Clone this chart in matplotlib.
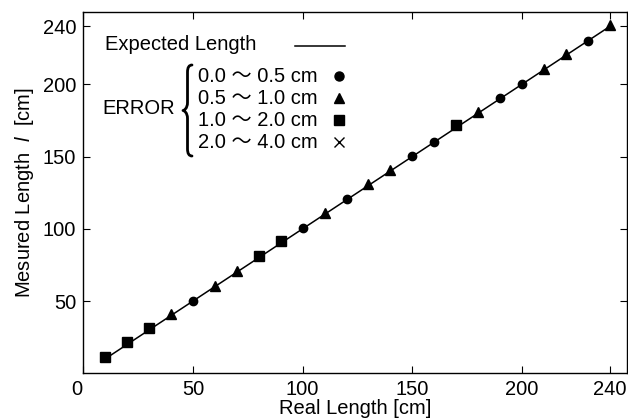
import numpy as np
import matplotlib
matplotlib.use("Agg")
import matplotlib.pyplot as plt
from matplotlib.path import Path
from matplotlib.patches import PathPatch
import matplotlib.transforms as mtransforms

plt.rcParams['font.family'] = ['Liberation Sans', 'Noto Sans CJK JP', 'DejaVu Sans']
plt.rcParams['mathtext.fontset'] = 'custom'
plt.rcParams['mathtext.rm'] = 'Liberation Sans'
plt.rcParams['mathtext.it'] = 'Liberation Sans:italic'

# real length [cm] and measured length [cm], grouped by error class
real_sq = [10, 20, 30, 80, 90, 170]
meas_sq = [11.5, 21.5, 31.5, 81.3, 91.5, 171.5]
real_tri = [40, 60, 70, 110, 130, 140, 180, 210, 220, 240]
meas_tri = [40.8, 60.7, 70.8, 110.7, 130.8, 140.7, 180.8, 210.7, 220.6, 240.8]
real_circ = [50, 100, 120, 150, 160, 190, 200, 230]
meas_circ = [50.3, 100.2, 120.3, 150.2, 160.3, 190.2, 200.3, 230.2]
expected_x = [10, 240]

x_ticks = [0, 50, 100, 150, 200, 240]
y_ticks = [50, 100, 150, 200, 240]
error_labels = ["0.0 ～ 0.5 cm", "0.5 ～ 1.0 cm", "1.0 ～ 2.0 cm", "2.0 ～ 4.0 cm"]
error_markers = ["o", "^", "s", "x"]

W, H = 628, 418
fig = plt.figure(figsize=(W / 100, H / 100), dpi=100)
ax = fig.add_axes([83.3 / W, 1 - 373.3 / H, (627.3 - 83.3) / W, (373.3 - 12) / H])

ax.plot(expected_x, expected_x, color="black", lw=1.1, zorder=2)
ax.plot(real_sq, meas_sq, "s", color="black", ms=6.5, zorder=3)
ax.plot(real_tri, meas_tri, "^", color="black", ms=6.5, zorder=3)
ax.plot(real_circ, meas_circ, "o", color="black", ms=6, zorder=3)

ax.set_xlim(0, 248)
ax.set_ylim(0, 250)
ax.set_xticks(x_ticks)
ax.set_yticks(y_ticks)
ax.tick_params(direction="in", length=5, width=0.8, top=True, right=True,
               labelsize=14.5, pad=5)
for s in ax.spines.values():
    s.set_linewidth(1.0)

# shift the corner "0" a little to the left
lbl0 = ax.get_xticklabels()[0]
lbl0.set_transform(lbl0.get_transform() +
                   mtransforms.ScaledTranslation(-6.5 / 100, 0, fig.dpi_scale_trans))

ax.set_xlabel("Real Length [cm]", fontsize=14.5, labelpad=0)
ax.set_ylabel(r"Mesured Length  $l$  [cm]", fontsize=14.5, labelpad=5)

# hand-made legend (figure pixel coordinates)
def px(x, y):
    return x / W, 1 - y / H

fs = 14.5
fig.text(*px(105, 45), "Expected Length", fontsize=fs, va="center", ha="left")
fig.add_artist(plt.Line2D([295 / W, 345 / W], [1 - 46 / H, 1 - 46 / H],
                          color="black", lw=1.1, transform=fig.transFigure))
fig.text(*px(102, 109), "ERROR", fontsize=fs, va="center", ha="left")

rows_y = [76, 98, 120, 142]
for lab, mk, yy in zip(error_labels, error_markers, rows_y):
    fig.text(*px(198, yy), lab, fontsize=fs, va="center", ha="left")
    mx, my = px(339, yy)
    fig.add_artist(plt.Line2D([mx], [my], marker=mk, color="black",
                              ms=7.5 if mk == "x" else 6.5, mew=1.0, ls="none",
                              transform=fig.transFigure))

# curly brace
x_tip, x_end, y_top, y_bot = 183, 192, 65, 156
y_mid = (y_top + y_bot) / 2
xm = (x_tip + x_end) / 2
pts = [(x_end, y_top), (xm, y_top), (xm, y_top + 7),
       (xm, y_mid - 8),
       (xm, y_mid - 2), (x_tip + 1, y_mid), (x_tip, y_mid),
       (x_tip + 1, y_mid), (xm, y_mid + 2), (xm, y_mid + 8),
       (xm, y_bot - 7),
       (xm, y_bot), (x_end, y_bot)]
codes = [Path.MOVETO, Path.CURVE3, Path.CURVE3,
         Path.LINETO,
         Path.CURVE4, Path.CURVE4, Path.CURVE4,
         Path.CURVE4, Path.CURVE4, Path.CURVE4,
         Path.LINETO,
         Path.CURVE3, Path.CURVE3]
verts = [px(x, y) for x, y in pts]
brace = PathPatch(Path(verts, codes), fill=False, lw=2.0, color="black",
                  transform=fig.transFigure, capstyle="round", joinstyle="round")
fig.add_artist(brace)

fig.savefig("out.png", dpi=100)
